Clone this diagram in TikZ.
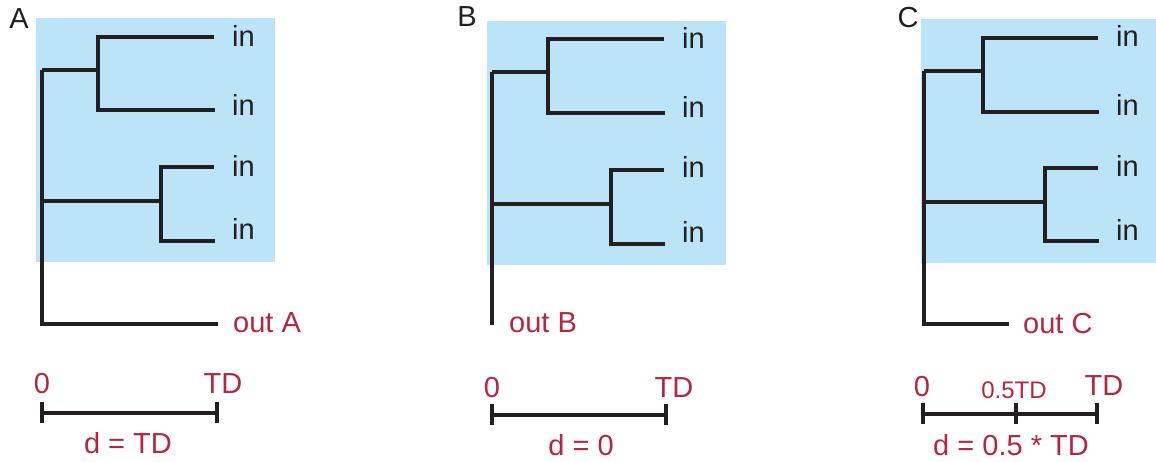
\documentclass[tikz,border=0pt]{standalone}
\usepackage{fontspec}
\setmainfont{Liberation Sans}
\definecolor{skyfill}{HTML}{BCE4F8}
\definecolor{labelred}{RGB}{181,38,64}
\definecolor{inkblack}{HTML}{231F20}
\tikzset{
  branch/.style={draw=inkblack, line width=4.3pt, line join=miter, line cap=butt},
  panelbg/.style={fill=skyfill, draw=none},
  leaflabel/.style={inner sep=0pt, anchor=base west, text=inkblack, font=\fontsize{29}{34}\selectfont},
  outlabel/.style={inner sep=0pt, anchor=base west, text=labelred, font=\fontsize{29}{34}\selectfont},
  scalelabel/.style={inner sep=0pt, anchor=base, text=labelred, font=\fontsize{29}{34}\selectfont},
  smallscale/.style={inner sep=0pt, anchor=base, text=labelred, font=\fontsize{24}{28}\selectfont},
  panellabel/.style={inner sep=0pt, anchor=base, text=inkblack, font=\fontsize{29}{34}\selectfont},
}
\begin{document}
\begin{tikzpicture}[x=1pt, y=-1pt]
\useasboundingbox (0,0) rectangle (1156,462);

% ---------------- Panel A: outgroup at full distance ----------------
\fill[panelbg] (36,18) rectangle (275,262);
\node[panellabel] (labA) at (19,29) {A};
\coordinate (Aroot) at (42,70);
\coordinate (Ajoin) at (42,201);
\coordinate (Ac1) at (98,70);
\coordinate (Ac2) at (161,201);
\coordinate (Al1) at (214,37);
\coordinate (Al2) at (215,110);
\coordinate (Al3) at (214,167);
\coordinate (Al4) at (215,241);
\coordinate (Aout) at (218,324);
\draw[branch] (Al1) -| (Ac1) |- (Al2);
\draw[branch] (Al3) -| (Ac2) |- (Al4);
\draw[branch] (Ac1) -- (Aroot);
\draw[branch] (Ac2) -- (Ajoin);
\draw[branch] (Aroot) |- (Aout);
\node[leaflabel] (Ain1) at (232,47) {in};
\node[leaflabel] (Ain2) at (232,116) {in};
\node[leaflabel] (Ain3) at (232,177) {in};
\node[leaflabel] (Ain4) at (232,240) {in};
\node[outlabel] (AoutL) at (233,332) {out A};
\coordinate (As0) at (42,413);
\coordinate (As1) at (217,413);
\draw[branch] (As0) -- (As1);
\draw[branch] (As0) ++(0,-11) -- ++(0,21);
\draw[branch] (As1) ++(0,-11) -- ++(0,21);
\node[scalelabel] (Azero) at (42,393) {0};
\node[scalelabel] (ATD) at (223,393) {TD};
\node[scalelabel] (Ad) at (128,453) {d = TD};

% ---------------- Panel B: outgroup at zero distance ----------------
\fill[panelbg] (487,21) rectangle (726,265);
\node[panellabel] (labB) at (467,27) {B};
\coordinate (Broot) at (492,72);
\coordinate (Bjoin) at (492,204);
\coordinate (Bc1) at (548,72);
\coordinate (Bc2) at (611,204);
\coordinate (Bl1) at (664,39);
\coordinate (Bl2) at (665,113);
\coordinate (Bl3) at (664,170);
\coordinate (Bl4) at (665,244);
\coordinate (Bout) at (492,325);
\draw[branch] (Bl1) -| (Bc1) |- (Bl2);
\draw[branch] (Bl3) -| (Bc2) |- (Bl4);
\draw[branch] (Bc1) -- (Broot);
\draw[branch] (Bc2) -- (Bjoin);
\draw[branch] (Broot) -- (Bout);
\node[leaflabel] (Bin1) at (682,49) {in};
\node[leaflabel] (Bin2) at (682,118) {in};
\node[leaflabel] (Bin3) at (682,178) {in};
\node[leaflabel] (Bin4) at (682,243) {in};
\node[outlabel] (BoutL) at (509,332) {out B};
\coordinate (Bs0) at (492,415);
\coordinate (Bs1) at (666,415);
\draw[branch] (Bs0) -- (Bs1);
\draw[branch] (Bs0) ++(0,-11) -- ++(0,21);
\draw[branch] (Bs1) ++(0,-11) -- ++(0,21);
\node[scalelabel] (Bzero) at (492,397) {0};
\node[scalelabel] (BTD) at (674,397) {TD};
\node[scalelabel] (Bd) at (581,455) {d = 0};

% ---------------- Panel C: outgroup at half distance ----------------
\fill[panelbg] (921,19) rectangle (1156,263);
\node[panellabel] (labC) at (908,28) {C};
\coordinate (Croot) at (924,71);
\coordinate (Cjoin) at (924,202);
\coordinate (Cc1) at (983,71);
\coordinate (Cc2) at (1045,202);
\coordinate (Cl1) at (1098,38);
\coordinate (Cl2) at (1099,112);
\coordinate (Cl3) at (1098,168);
\coordinate (Cl4) at (1099,241);
\coordinate (Cout) at (1009,324);
\draw[branch] (Cl1) -| (Cc1) |- (Cl2);
\draw[branch] (Cl3) -| (Cc2) |- (Cl4);
\draw[branch] (Cc1) -- (Croot);
\draw[branch] (Cc2) -- (Cjoin);
\draw[branch] (Croot) |- (Cout);
\node[leaflabel] (Cin1) at (1116,47) {in};
\node[leaflabel] (Cin2) at (1116,116) {in};
\node[leaflabel] (Cin3) at (1116,177) {in};
\node[leaflabel] (Cin4) at (1116,241) {in};
\node[outlabel] (CoutL) at (1023,333) {out C};
\coordinate (Cs0) at (923,414);
\coordinate (Csm) at (1016,414);
\coordinate (Cs1) at (1097,414);
\draw[branch] (Cs0) -- (Cs1);
\draw[branch] (Cs0) ++(0,-11) -- ++(0,21);
\draw[branch] (Csm) ++(0,-11) -- ++(0,21);
\draw[branch] (Cs1) ++(0,-11) -- ++(0,21);
\node[scalelabel] (Czero) at (922,396) {0};
\node[smallscale] (Chalf) at (1014,398) {0.5TD};
\node[scalelabel] (CTD) at (1104,395) {TD};
\node[scalelabel] (Cd) at (1011,455) {d = 0.5 * TD};
\end{tikzpicture}
\end{document}
